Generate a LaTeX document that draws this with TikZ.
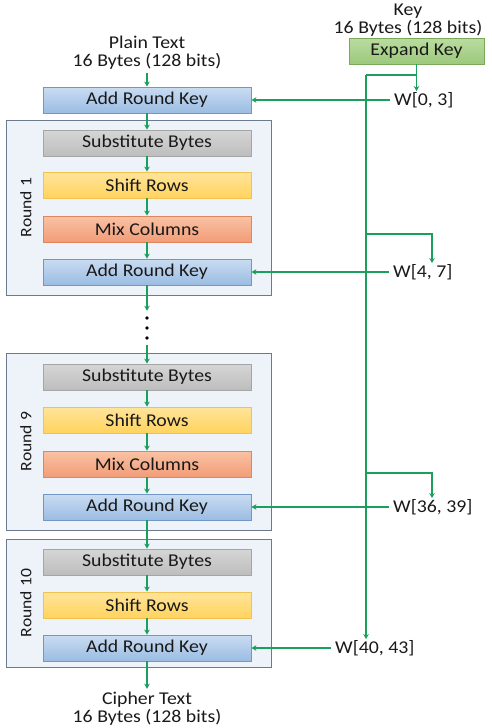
\documentclass[tikz,border=0pt]{standalone}
\usepackage{fontspec}
\setmainfont{Carlito}[FakeStretch=1.1]
\usetikzlibrary{arrows.meta}
\definecolor{gruen}{HTML}{1A9F5C}
\definecolor{arkoben}{HTML}{C9DCF2}
\definecolor{arkunten}{HTML}{9BBCE2}
\definecolor{arkrand}{HTML}{7197C9}
\definecolor{suboben}{HTML}{D6D6D6}
\definecolor{subunten}{HTML}{BDBDBD}
\definecolor{subrand}{HTML}{A5A5A5}
\definecolor{shiftoben}{HTML}{FFE49A}
\definecolor{shiftunten}{HTML}{FFD35E}
\definecolor{shiftrand}{HTML}{F1C24F}
\definecolor{mixoben}{HTML}{F9C2A4}
\definecolor{mixunten}{HTML}{F29C77}
\definecolor{mixrand}{HTML}{DF865E}
\definecolor{keyoben}{HTML}{BADCA0}
\definecolor{keyunten}{HTML}{9CC97B}
\definecolor{keyrand}{HTML}{7BA95B}
\definecolor{rahmenfill}{HTML}{EEF2F9}
\definecolor{rahmenrand}{HTML}{6B7A8C}
\tikzset{
  kasten/.style={draw, minimum width=208pt, minimum height=26pt, inner sep=0pt, line width=0.8pt},
  arkbox/.style={kasten, draw=arkrand, top color=arkoben, bottom color=arkunten},
  subbox/.style={kasten, draw=subrand, top color=suboben, bottom color=subunten},
  shiftbox/.style={kasten, draw=shiftrand, top color=shiftoben, bottom color=shiftunten},
  mixbox/.style={kasten, draw=mixrand, top color=mixoben, bottom color=mixunten},
  expandbox/.style={kasten, minimum width=135pt, draw=keyrand, top color=keyoben, bottom color=keyunten},
  rahmen/.style={draw=rahmenrand, fill=rahmenfill, minimum width=265pt, inner sep=0pt, line width=0.8pt},
  pfeil/.style={draw=gruen, line width=1.7pt, -{Stealth[length=5pt,width=5.5pt]}},
  leitung/.style={draw=gruen, line width=1.7pt},
  wlabel/.style={anchor=west, inner xsep=4pt, inner ysep=1pt},
}
\begin{document}
\begin{tikzpicture}[x=1pt, y=-1pt, font=\fontsize{18}{18}\selectfont, text=black!90]
\useasboundingbox (0,0) rectangle (491,728);
% Rahmen der Runden
\node[rahmen, minimum height=175pt] (frame1) at (138.5,207.5) {};
\node[rahmen, minimum height=177pt] (frame9) at (138.5,441.5) {};
\node[rahmen, minimum height=128pt] (frame10) at (138.5,603) {};
\node[rotate=90, font=\fontsize{16}{16}\selectfont] (round1) at (26,207.5) {Round 1};
\node[rotate=90, font=\fontsize{16}{16}\selectfont] (round9) at (26,441.5) {Round 9};
\node[rotate=90, font=\fontsize{16}{16}\selectfont] (round10) at (26,603) {Round 10};
% Kaesten
\node[align=center] (plain) at (147,53) {Plain Text\\16 Bytes (128 bits)};
\node[arkbox] (ark0) at (147,100) {Add Round Key};
\node[subbox] (sub1) at (147,143) {Substitute Bytes};
\node[shiftbox] (shift1) at (147,185) {Shift Rows};
\node[mixbox] (mix1) at (147,229) {Mix Columns};
\node[arkbox] (ark1) at (147,272) {Add Round Key};
\node[minimum height=34pt, minimum width=10pt, inner sep=0pt] (dots) at (147,328) {};
\node[subbox] (sub9) at (147,377) {Substitute Bytes};
\node[shiftbox] (shift9) at (147,420) {Shift Rows};
\node[mixbox] (mix9) at (147,464) {Mix Columns};
\node[arkbox] (ark9) at (147,507) {Add Round Key};
\node[subbox] (sub10) at (147,562) {Substitute Bytes};
\node[shiftbox] (shift10) at (147,605) {Shift Rows};
\node[arkbox] (ark10) at (147,648) {Add Round Key};
\node[align=center] (cipher) at (147,709) {Cipher Text\\16 Bytes (128 bits)};
\node[align=center] (key) at (408,20) {Key\\16 Bytes (128 bits)};
\node[expandbox] (expand) at (416.5,51) {Expand Key};
% Schluessel
\node[wlabel] (w0) at (390,100) {W[0, 3]};
\node[wlabel] (w4) at (389,272) {W[4, 7]};
\node[wlabel] (w36) at (389,507) {W[36, 39]};
\node[wlabel] (w40) at (331,648) {W[40, 43]};
% Punkte
\foreach \dy in {-10,0,10}
  \fill (dots.center) ++(0,\dy) circle (1.8pt);
% Pfeile
\draw[pfeil] (plain) -- (ark0);
\draw[pfeil] (ark0) -- (sub1);
\draw[pfeil] (sub1) -- (shift1);
\draw[pfeil] (shift1) -- (mix1);
\draw[pfeil] (mix1) -- (ark1);
\draw[pfeil] (ark1) -- (dots);
\draw[pfeil] (dots) -- (sub9);
\draw[pfeil] (sub9) -- (shift9);
\draw[pfeil] (shift9) -- (mix9);
\draw[pfeil] (mix9) -- (ark9);
\draw[pfeil] (ark9) -- (sub10);
\draw[pfeil] (sub10) -- (shift10);
\draw[pfeil] (shift10) -- (ark10);
\draw[pfeil] (ark10) -- (cipher);
% Schluesselleitung
\coordinate (bus) at (366,75);
\coordinate (j4) at (366,234);
\coordinate (j36) at (366,473);
\draw[pfeil] (expand.south) -- (expand.south |- w0.north);
\draw[leitung] (expand.south |- bus) -- (bus);
\draw[pfeil] (bus) -- (bus |- w40.north);
\draw[pfeil] (j4) -| (w4.north -| 432,0);
\draw[pfeil] (j36) -| (w36.north -| 432,0);
\draw[pfeil] (w0.west) -- (ark0.east);
\draw[pfeil] (w4.west) -- (ark1.east);
\draw[pfeil] (w36.west) -- (ark9.east);
\draw[pfeil] (w40.west) -- (ark10.east);
\end{tikzpicture}
\end{document}
